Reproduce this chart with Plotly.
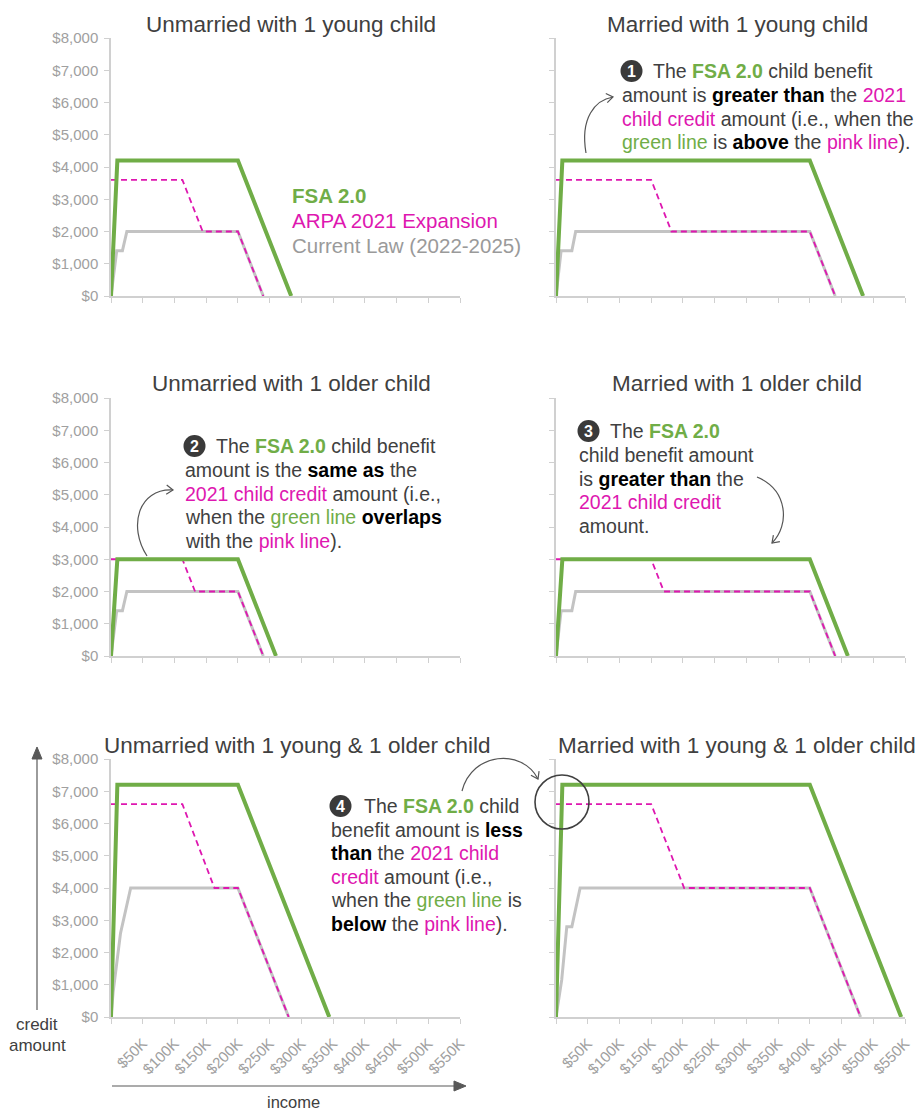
import math
import plotly.graph_objects as go

W, H = 918, 1110

# ---- axis ticks -------------------------------------------------------------
INCOME_TICKS = [0, 50, 100, 150, 200, 250, 300, 350, 400, 450, 500, 550]   # $K
INCOME_LABELS = ["", "$50K", "$100K", "$150K", "$200K", "$250K", "$300K",
                 "$350K", "$400K", "$450K", "$500K", "$550K"]
CREDIT_TICKS = [0, 1000, 2000, 3000, 4000, 5000, 6000, 7000, 8000]
CREDIT_LABELS = ["$0", "$1,000", "$2,000", "$3,000", "$4,000", "$5,000",
                 "$6,000", "$7,000", "$8,000"]

PANEL_TITLES = [
    "Unmarried with 1 young child", "Married with 1 young child",
    "Unmarried with 1 older child", "Married with 1 older child",
    "Unmarried with 1 young & 1 older child", "Married with 1 young & 1 older child",
]

# ---- credit schedules: income ($K) -> credit ($) ----------------------------
# Unmarried, 1 young child
uy_fsa_x = [0, 10, 200, 284]
uy_fsa_y = [0, 4200, 4200, 0]
uy_arpa_x = [0, 112.5, 144.5, 200, 240]
uy_arpa_y = [3600, 3600, 2000, 2000, 0]
uy_cur_x = [0, 9, 18, 25, 200, 240]
uy_cur_y = [0, 1400, 1400, 2000, 2000, 0]

# Married, 1 young child
my_fsa_x = [0, 10, 400, 484]
my_fsa_y = [0, 4200, 4200, 0]
my_arpa_x = [0, 150, 182, 400, 440]
my_arpa_y = [3600, 3600, 2000, 2000, 0]
my_cur_x = [0, 8, 25, 31, 400, 440]
my_cur_y = [0, 1400, 1400, 2000, 2000, 0]

# Unmarried, 1 older child
uo_fsa_x = [0, 10, 200, 260]
uo_fsa_y = [0, 3000, 3000, 0]
uo_arpa_x = [0, 112.5, 132.5, 200, 240]
uo_arpa_y = [3000, 3000, 2000, 2000, 0]
uo_cur_x = [0, 9, 18, 25, 200, 240]
uo_cur_y = [0, 1400, 1400, 2000, 2000, 0]

# Married, 1 older child
mo_fsa_x = [0, 10, 400, 460]
mo_fsa_y = [0, 3000, 3000, 0]
mo_arpa_x = [0, 150, 170, 400, 440]
mo_arpa_y = [3000, 3000, 2000, 2000, 0]
mo_cur_x = [0, 8, 25, 31, 400, 440]
mo_cur_y = [0, 1400, 1400, 2000, 2000, 0]

# Unmarried, 1 young & 1 older child
ub_fsa_x = [0, 10, 200, 344]
ub_fsa_y = [0, 7200, 7200, 0]
ub_arpa_x = [0, 112.5, 163, 200, 280]
ub_arpa_y = [6600, 6600, 4000, 4000, 0]
ub_cur_x = [0, 3.5, 15, 31, 200, 280]
ub_cur_y = [0, 800, 2600, 4000, 4000, 0]

# Married, 1 young & 1 older child
mb_fsa_x = [0, 10, 400, 544]
mb_fsa_y = [0, 7200, 7200, 0]
mb_arpa_x = [0, 150, 202, 400, 480]
mb_arpa_y = [6600, 6600, 4000, 4000, 0]
mb_cur_x = [0, 9, 17, 25, 38, 400, 480]
mb_cur_y = [0, 1150, 2800, 2800, 4000, 4000, 0]

PANELS = [
    (uy_fsa_x, uy_fsa_y, uy_arpa_x, uy_arpa_y, uy_cur_x, uy_cur_y),
    (my_fsa_x, my_fsa_y, my_arpa_x, my_arpa_y, my_cur_x, my_cur_y),
    (uo_fsa_x, uo_fsa_y, uo_arpa_x, uo_arpa_y, uo_cur_x, uo_cur_y),
    (mo_fsa_x, mo_fsa_y, mo_arpa_x, mo_arpa_y, mo_cur_x, mo_cur_y),
    (ub_fsa_x, ub_fsa_y, ub_arpa_x, ub_arpa_y, ub_cur_x, ub_cur_y),
    (mb_fsa_x, mb_fsa_y, mb_arpa_x, mb_arpa_y, mb_cur_x, mb_cur_y),
]

# ---- styling ----------------------------------------------------------------
GREEN = "#70AD47"
PINK = "#DE17B0"
GRAY_LINE = "#C3C3C3"
TEXT = "#404040"
AXIS = "#D0D0D0"
TICKTXT = "#A0A0A0"
FONT = "Liberation Sans, Arial, sans-serif"


def px(x):
    return x / W


def py(y):
    return 1 - y / H


COLS = [(111, 460), (556, 905)]           # pixel extents of plot areas
ROWS = [(38, 296), (398, 656), (759, 1017)]

fig = go.Figure()
layout_axes = {}

for i, (fx, fy, ax_, ay_, cx, cy) in enumerate(PANELS):
    r, c = divmod(i, 2)
    n = "" if i == 0 else str(i + 1)
    xa, ya = "x" + n, "y" + n
    fig.add_trace(go.Scatter(x=cx, y=cy, mode="lines", xaxis=xa, yaxis=ya,
                             line=dict(color=GRAY_LINE, width=3),
                             name="Current Law (2022-2025)", showlegend=False,
                             hoverinfo="skip"))
    fig.add_trace(go.Scatter(x=ax_, y=ay_, mode="lines", xaxis=xa, yaxis=ya,
                             line=dict(color=PINK, width=1.8, dash="6px,4px"),
                             name="ARPA 2021 Expansion", showlegend=False,
                             hoverinfo="skip"))
    fig.add_trace(go.Scatter(x=fx, y=fy, mode="lines", xaxis=xa, yaxis=ya,
                             line=dict(color=GREEN, width=4),
                             name="FSA 2.0", showlegend=False,
                             hoverinfo="skip"))

    x0, x1 = COLS[c]
    y0, y1 = ROWS[r]
    layout_axes["xaxis" + n] = dict(
        domain=[px(x0), px(x1)], anchor=ya, range=[0, 550],
        tickvals=INCOME_TICKS, ticktext=INCOME_LABELS,
        showticklabels=(r == 2), tickangle=-45, automargin=False,
        ticklabelstandoff=5,
        tickfont=dict(size=15, color=TICKTXT, family=FONT),
        ticks="outside", ticklen=5, tickcolor=AXIS, tickwidth=1,
        showline=True, linecolor=AXIS, linewidth=1.5,
        showgrid=False, zeroline=False, fixedrange=True)
    layout_axes["yaxis" + n] = dict(
        domain=[py(y1), py(y0)], anchor=xa, range=[0, 8000],
        tickvals=CREDIT_TICKS, ticktext=CREDIT_LABELS,
        showticklabels=(c == 0), automargin=False,
        ticklabelstandoff=3,
        tickfont=dict(size=15, color=TICKTXT, family=FONT),
        ticks="outside", ticklen=5, tickcolor=AXIS, tickwidth=1,
        showline=True, linecolor=AXIS, linewidth=1.5,
        showgrid=False, zeroline=False, fixedrange=True)

annotations = []
shapes = []


def label(x, y, text, size=19.5, color=TEXT, xanchor="left"):
    annotations.append(dict(x=px(x), y=py(y), xref="paper", yref="paper",
                            text=text, showarrow=False, xanchor=xanchor,
                            yanchor="middle", align="left",
                            font=dict(size=size, color=color, family=FONT)))


# panel titles
TITLE_POS = [(291, 24), (737, 24), (291, 383), (737, 383), (297, 745), (737, 745)]
for t, (tx, ty) in zip(PANEL_TITLES, TITLE_POS):
    label(tx, ty, t, size=22.5, color=TEXT, xanchor="center")

# series key
label(290, 196, "<b>FSA 2.0</b>", size=20.5, color=GREEN)
label(290, 221, "ARPA 2021 Expansion", size=20.5, color=PINK)
label(290, 246, "Current Law (2022-2025)", size=20.5, color="#9A9A9A")


def g(s):
    return f"<span style='color:{GREEN}'>{s}</span>"


def gb(s):
    return f"<b><span style='color:{GREEN}'>{s}</span></b>"


def p(s):
    return f"<span style='color:{PINK}'>{s}</span>"


def k(s):
    return f"<b><span style='color:#000000'>{s}</span></b>"


def badge(cx, cy, num):
    shapes.append(dict(type="circle", xref="paper", yref="paper",
                       x0=px(cx - 11), x1=px(cx + 11), y0=py(cy + 11), y1=py(cy - 11),
                       fillcolor="#3A3A3A", line=dict(width=0)))
    label(cx, cy + 0.5, f"<b>{num}</b>", size=16, color="#FFFFFF", xanchor="center")


def callout(x, y0, dy, lines, badge_num, first_dx):
    badge(x + 11.5, y0, badge_num)
    for j, ln in enumerate(lines):
        label(x + (first_dx if j == 0 else 0), y0 + j * dy, ln)


callout(620, 71, 23.8, [
    "The " + gb("FSA 2.0") + " child benefit",
    "amount is " + k("greater than") + " the " + p("2021"),
    p("child credit") + " amount (i.e., when the",
    g("green line") + " is " + k("above") + " the " + p("pink line") + ").",
], 1, 31)

callout(183, 446, 23.8, [
    "The " + gb("FSA 2.0") + " child benefit",
    "amount is the " + k("same as") + " the",
    p("2021 child credit") + " amount (i.e.,",
    "when the " + g("green line") + " " + k("overlaps"),
    "with the " + p("pink line") + ").",
], 2, 31)

callout(577, 431, 23.8, [
    "The " + gb("FSA 2.0"),
    "child benefit amount",
    "is " + k("greater than") + " the",
    p("2021 child credit"),
    "amount.",
], 3, 31)

callout(329, 806, 23.6, [
    "The " + gb("FSA 2.0") + " child",
    "benefit amount is " + k("less"),
    k("than") + " the " + p("2021 child"),
    p("credit") + " amount (i.e.,",
    "when the " + g("green line") + " is",
    k("below") + " the " + p("pink line") + ").",
], 4, 33)


def P(x, y):
    return f"{px(x):.5f},{py(y):.5f}"


def curved_arrow(p0, c1, c2, p3, color="#555555"):
    shapes.append(dict(type="path", xref="paper", yref="paper",
                       path=f"M {P(*p0)} C {P(*c1)} {P(*c2)} {P(*p3)}",
                       line=dict(color=color, width=1.2)))
    # open chevron head aligned with the end tangent
    dx, dy = p3[0] - c2[0], p3[1] - c2[1]
    L = (dx * dx + dy * dy) ** 0.5
    ux, uy = dx / L, dy / L
    size = 8
    pts = []
    for ang in (math.radians(35), math.radians(-35)):
        rx = -ux * math.cos(ang) + uy * math.sin(ang)
        ry = -uy * math.cos(ang) - ux * math.sin(ang)
        pts.append((p3[0] + size * rx, p3[1] + size * ry))
    shapes.append(dict(type="path", xref="paper", yref="paper",
                       path=f"M {P(*pts[0])} L {P(*p3)} L {P(*pts[1])}",
                       line=dict(color=color, width=1.2)))


curved_arrow((586, 153), (580, 118), (595, 100), (613, 97))
curved_arrow((147, 556), (128, 527), (138, 488), (173, 490))
curved_arrow((757, 477), (788, 490), (790, 525), (772, 543))
curved_arrow((462, 791), (472, 752), (522, 748), (538, 779))

# highlight ring on the married two-child panel
shapes.append(dict(type="circle", xref="paper", yref="paper",
                   x0=px(535), x1=px(589), y0=py(829), y1=py(775),
                   line=dict(color="#404040", width=1.6)))

# axis direction arrows
AR = "#595959"
shapes.append(dict(type="line", xref="paper", yref="paper",
                   x0=px(37), x1=px(37), y0=py(1010), y1=py(757),
                   line=dict(color=AR, width=1.2)))
shapes.append(dict(type="path", xref="paper", yref="paper",
                   path=f"M {P(37, 747)} L {P(32, 759)} L {P(42, 759)} Z",
                   fillcolor=AR, line=dict(color=AR, width=1)))
shapes.append(dict(type="line", xref="paper", yref="paper",
                   x0=px(112), x1=px(455), y0=py(1086), y1=py(1086),
                   line=dict(color=AR, width=1.2)))
shapes.append(dict(type="path", xref="paper", yref="paper",
                   path=f"M {P(466, 1086)} L {P(454, 1081)} L {P(454, 1091)} Z",
                   fillcolor=AR, line=dict(color=AR, width=1)))

label(37, 1024, "credit", size=17, color=TEXT, xanchor="center")
label(37, 1045, "amount", size=17, color=TEXT, xanchor="center")
label(293, 1102, "income", size=16.5, color=TEXT, xanchor="center")

fig.update_layout(
    template="none",
    width=W, height=H, autosize=False,
    margin=dict(l=0, r=0, t=0, b=0, pad=0),
    paper_bgcolor="white", plot_bgcolor="white",
    showlegend=False,
    font=dict(family=FONT, color=TEXT),
    annotations=annotations, shapes=shapes,
    **layout_axes,
)

fig.write_html("out.html")
